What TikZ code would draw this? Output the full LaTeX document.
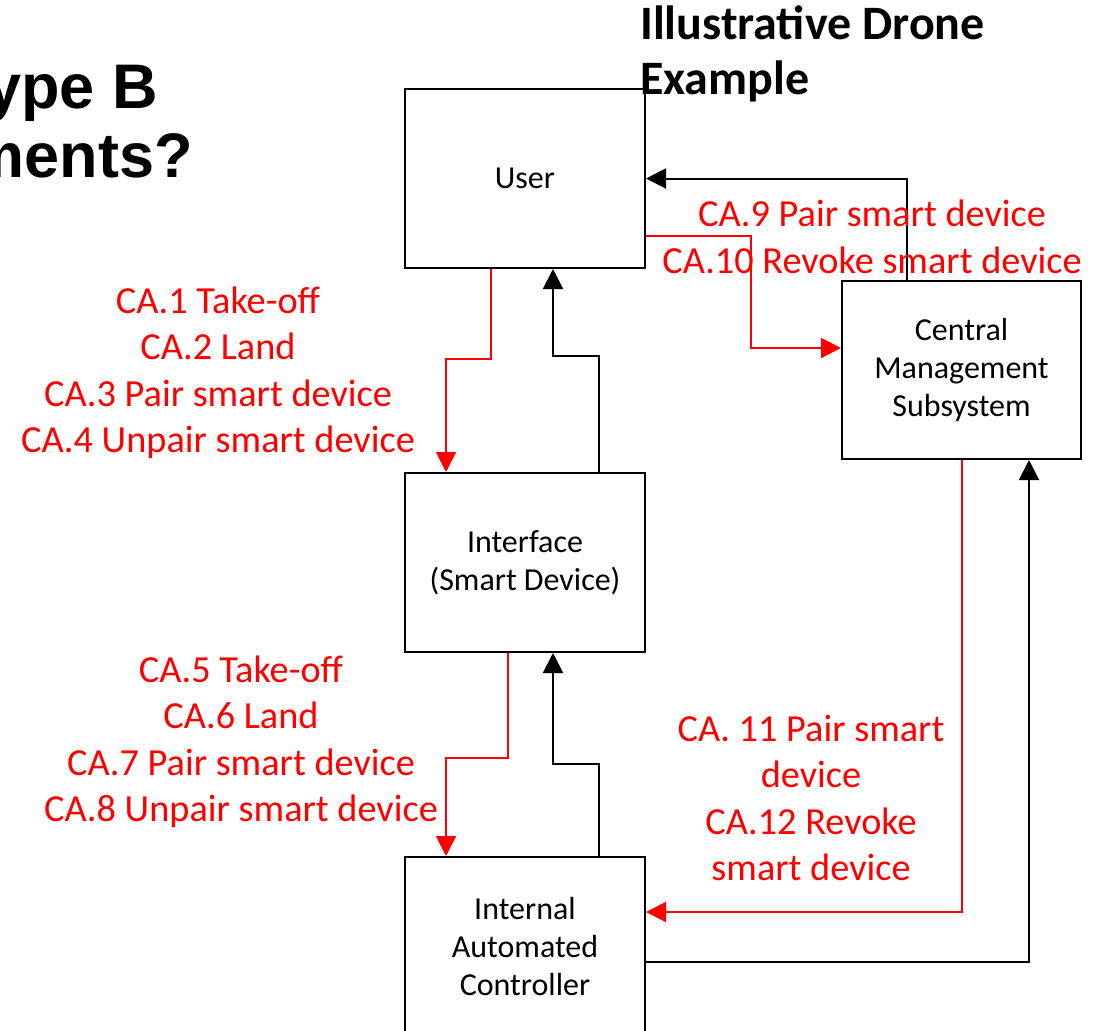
\documentclass[tikz,border=0pt]{standalone}
\usepackage{fontspec}
\setmainfont{Carlito}
\newfontfamily\arialf{Liberation Sans}
\usetikzlibrary{arrows.meta}
\begin{document}
\begin{tikzpicture}[x=1pt,y=-1pt,
  blk/.style={draw,line width=2pt,minimum width=240pt,minimum height=179pt,inner sep=0pt,align=center,font=\fontsize{32}{38}\selectfont},
  rline/.style={draw=red,line width=2pt,-{Triangle[length=20pt,width=20pt]}},
  bline/.style={draw=black,line width=2pt,-{Triangle[length=20pt,width=20pt]}},
  lbl/.style={text=red,align=center,inner sep=0pt,font=\fontsize{38.3}{46.5}\selectfont}]
\useasboundingbox (0,0) rectangle (1109,1031);
\fill[white] (0,0) rectangle (1109,1031);
% titles
\node[anchor=base east,inner sep=0pt,font=\arialf\bfseries\fontsize{63}{69}\selectfont] (t1) at (158,108) {ype B};
\node[anchor=base east,inner sep=0pt,font=\arialf\bfseries\fontsize{63}{69}\selectfont] (t2) at (193,177) {ments?};
\node[anchor=base west,inner sep=0pt,font=\bfseries\fontsize{48}{55}\selectfont] (t3) at (640,39) {Illustrative Drone};
\node[anchor=base west,inner sep=0pt,font=\bfseries\fontsize{48}{55}\selectfont] (t4) at (640,94) {Example};
% boxes
\node[blk] (user) at (525,178.5) {\raisebox{-2pt}{User}};
\node[blk] (iface) at (525,562.5) {Interface\\(Smart Device)};
\node[blk] (ctrl) at (525,946.5) {Internal\\Automated\\Controller};
\node[blk,minimum width=239pt,minimum height=178pt] (cms) at (961.5,370) {Central\\Management\\Subsystem};
% connectors
\draw[rline] ([xshift=-34pt]user.south) -- ++(0,90) -| ([xshift=-79pt]iface.north);
\draw[bline] ([xshift=74pt]iface.north) -- ++(0,-116) -| ([xshift=28pt]user.south);
\draw[rline] ([xshift=-17pt]iface.south) -- ++(0,105) -| ([xshift=-79pt]ctrl.north);
\draw[bline] ([xshift=74pt]ctrl.north) -- ++(0,-92) -| ([xshift=28pt]iface.south);
\draw[rline] ([yshift=-57.5pt]user.east) -- ++(105,0) |- ([yshift=22pt]cms.west);
\draw[bline] ([xshift=-54.5pt]cms.north) |- (user.east);
\draw[rline] ([xshift=0.5pt]cms.south) |- ([yshift=34.5pt]ctrl.east);
\draw[bline] ([yshift=-15.5pt]ctrl.east) -| ([xshift=67.5pt]cms.south);
% labels
\node[lbl] (l1) at (218,373) {CA.1 Take-off\\CA.2 Land\\CA.3 Pair smart device\\CA.4 Unpair smart device};
\node[lbl] (l2) at (241,742) {CA.5 Take-off\\CA.6 Land\\CA.7 Pair smart device\\CA.8 Unpair smart device};
\node[lbl] (l3) at (872,237) {CA.9 Pair smart device\\CA.10 Revoke smart device};
\node[lbl] (l4) at (811,798) {CA. 11 Pair smart\\device\\CA.12 Revoke\\smart device};
\end{tikzpicture}
\end{document}
